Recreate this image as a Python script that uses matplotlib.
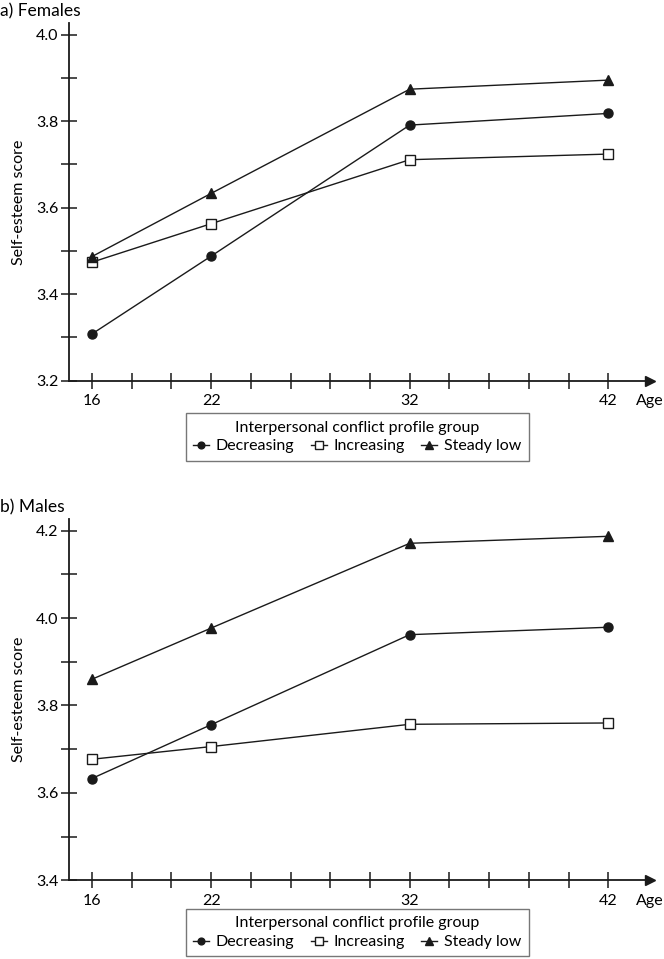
import matplotlib.pyplot as plt

plt.rcParams['font.family'] = ['Lato', 'DejaVu Sans']
plt.rcParams['font.size'] = 11

ages = [16, 22, 32, 42]
groups = ["Decreasing", "Increasing", "Steady low"]

# a) Females
fem_decreasing = [3.308, 3.488, 3.791, 3.818]
fem_increasing = [3.474, 3.563, 3.711, 3.724]
fem_steady_low = [3.487, 3.633, 3.874, 3.895]

# b) Males
male_decreasing = [3.633, 3.756, 3.962, 3.979]
male_increasing = [3.677, 3.706, 3.757, 3.760]
male_steady_low = [3.860, 3.977, 4.171, 4.187]

x_labels = {16: "16", 22: "22", 32: "32", 42: "42"}
ink = "#1a1a1a"

fig = plt.figure(figsize=(6.64, 9.59), dpi=100)


def panel(rect, series, ylim, title, legend_top):
    ax = fig.add_axes(rect)
    styles = [dict(marker="o", mfc=ink, ms=6.5),
              dict(marker="s", mfc="white", ms=7, mew=1),
              dict(marker="^", mfc=ink, ms=7)]
    for vals, name, st in zip(series, groups, styles):
        ax.plot(ages, vals, color=ink, lw=1, mec=ink, label=name, **st)

    ax.set_xlim(14.85, 44.1)
    ax.set_ylim(*ylim)
    xt = list(range(16, 43, 2))
    ax.set_xticks(xt)
    ax.set_xticklabels([x_labels.get(v, "") for v in xt])
    lo = round(ylim[0], 1)
    yt = [round(lo + 0.1 * i, 1) for i in range(int(round((ylim[1] - lo) / 0.1)) + 1)]
    ax.set_yticks(yt)
    ax.set_yticklabels([f"{v:.1f}" if round(v * 10) % 2 == 0 else "" for v in yt])
    ax.tick_params(direction="inout", length=11, width=1.1, color=ink,
                   labelsize=11.5, pad=2)
    ax.tick_params(axis="x", pad=4)
    for s in ["top", "right"]:
        ax.spines[s].set_visible(False)
    for s in ["left", "bottom"]:
        ax.spines[s].set_color(ink)
        ax.spines[s].set_linewidth(1.3)
    ax.plot(1, 0, ">", color=ink, ms=7, transform=ax.transAxes, clip_on=False)
    ax.text(1.0, -0.058, "Age", transform=ax.transAxes, ha="center", va="center",
            fontsize=11.5)
    ax.set_ylabel("Self-esteem score", fontsize=11.5, labelpad=7)
    fig.text(0.0, rect[1] + rect[3] + 0.012, title, fontsize=12.5, ha="left",
             va="center")
    leg = fig.legend(*ax.get_legend_handles_labels(), loc="upper center",
                     bbox_to_anchor=(0.538, legend_top), ncol=3,
                     title="Interpersonal conflict profile group",
                     title_fontsize=11.5, fontsize=11.5, frameon=True,
                     fancybox=False, edgecolor="#555555", handlelength=1.0,
                     handletextpad=0.45, columnspacing=1.0, borderpad=0.45,
                     labelspacing=0.3, borderaxespad=0, markerscale=0.75)
    leg.get_frame().set_linewidth(1)
    return ax


panel([0.104, 0.603, 0.875, 0.373],
      [fem_decreasing, fem_increasing, fem_steady_low],
      (3.2, 4.027), "a) Females", 0.569)
panel([0.104, 0.082, 0.875, 0.377],
      [male_decreasing, male_increasing, male_steady_low],
      (3.4, 4.227), "b) Males", 0.052)

fig.savefig("out.png", dpi=100)
